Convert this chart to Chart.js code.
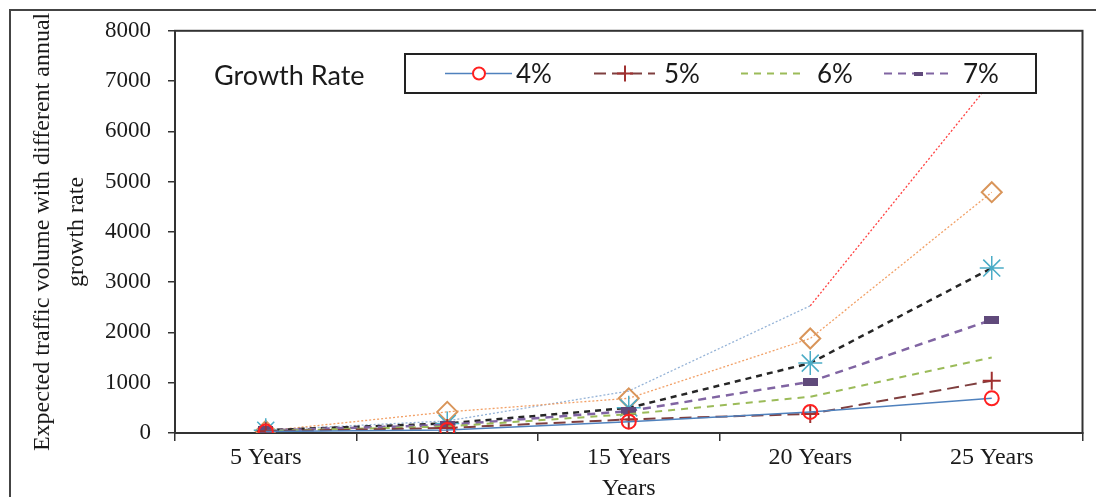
<!DOCTYPE html>
<html><head><meta charset="utf-8">
<script src="https://cdn.jsdelivr.net/npm/chart.js@4"></script>
<style>
html,body{margin:0;padding:0;overflow:hidden;background:#fff;width:1096px;height:497px}
#wrap{position:relative;width:1096px;height:510px}
#frame{position:absolute;left:9px;top:9px;width:1200px;height:600px;border:2px solid #444;pointer-events:none}
canvas{position:absolute;left:0;top:0}
</style></head><body>
<div id="wrap"><canvas id="c" width="1096" height="510"></canvas><div id="frame"></div></div>
<script>
const categories = ['5 Years', '10 Years', '15 Years', '20 Years', '25 Years'];
const seriesNames = ['4%', '5%', '6%', '7%', '8%', '9%', '10%'];
const rate4 = [30, 60, 225, 420, 690];
const rate5 = [35, 100, 270, 380, 1040];
const rate6 = [40, 130, 375, 720, 1500];
const rate7 = [50, 160, 435, 1020, 2250];
const rate8 = [55, 190, 500, 1390, 3280];
const rate9 = [40, 420, 690, 1880, 4790];
const rate10 = [60, 240, 835, 2530, 7000];
const yMin = 0, yMax = 8000, yStep = 1000;
const legendTitle = 'Growth Rate';
const xTitle = 'Years';
const yTitle = ['Expected traffic volume with different annual', 'growth rate'];

function rectImg(w, h, color) {
  const c = document.createElement('canvas');
  c.width = w; c.height = h;
  const x = c.getContext('2d');
  x.fillStyle = color; x.fillRect(0, 0, w, h);
  return c;
}
const purpleRect = rectImg(15, 8, '#604A7B');
const purpleRectSmall = rectImg(9, 4, '#604A7B');

const datasets = [
  {label: seriesNames[0], data: rate4, borderColor: '#4F81BD', borderWidth: 1.5,
   pointStyle: 'circle', pointRadius: 7, pointBorderColor: '#FF2020', pointBackgroundColor: 'rgba(255,255,255,0)', pointBorderWidth: 2},
  {label: seriesNames[1], data: rate5, borderColor: '#7F3F3F', borderWidth: 2, borderDash: [12, 6],
   pointStyle: 'cross', pointRadius: 9, pointBorderColor: '#A03030', pointBorderWidth: 2},
  {label: seriesNames[2], data: rate6, borderColor: '#9BBB59', borderWidth: 2, borderDash: [7, 6],
   pointRadius: 0},
  {label: seriesNames[3], data: rate7, borderColor: '#8064A2', borderWidth: 2.5, borderDash: [8, 6],
   pointStyle: purpleRect, pointRadius: 6},
  {label: seriesNames[4], data: rate8, borderColor: '#262626', borderWidth: 2.5, borderDash: [6, 5],
   pointStyle: 'star', pointRadius: 12, pointBorderColor: '#4BACC6', pointBorderWidth: 1.5},
  {label: seriesNames[5], data: rate9, borderColor: '#F2A066', borderWidth: 1.3, borderDash: [2, 2],
   pointStyle: 'rectRot', pointRadius: 10, pointBorderColor: '#D9955A', pointBackgroundColor: 'rgba(255,255,255,0)', pointBorderWidth: 2},
  {label: seriesNames[6], data: rate10, borderColor: '#95B3D7', borderWidth: 1.3, borderDash: [2, 2],
   pointRadius: 0,
   segment: {borderColor: c => c.p1DataIndex === 4 ? '#FF4040' : undefined}}
];
datasets.forEach(d => { d.fill = false; d.tension = 0; });

const legendSpec = [
  {ds: 0, x1: 445, x2: 512, mx: 479, tx: 516, r: 6, ps: 'circle'},
  {ds: 1, x1: 594, x2: 655, mx: 625, tx: 664, r: 8, ps: 'cross'},
  {ds: 2, x1: 741, x2: 806, mx: null, tx: 817, r: 0, ps: null},
  {ds: 3, x1: 884, x2: 954, mx: 918, tx: 963, r: 4, ps: purpleRectSmall}
];

const boxPlugin = {
  id: 'areaBox',
  beforeDatasetsDraw(chart) {
    const {ctx, chartArea: a} = chart;
    ctx.save();
    ctx.strokeStyle = '#333'; ctx.lineWidth = 2;
    ctx.strokeRect(a.left, a.top, a.right - a.left, a.bottom - a.top);
    ctx.restore();
  }
};

const legendPlugin = {
  id: 'customLegend',
  afterDatasetsDraw(chart) {
    const ctx = chart.ctx;
    ctx.save();
    ctx.fillStyle = '#fff';
    ctx.fillRect(405, 54, 631, 39);
    ctx.strokeStyle = '#222'; ctx.lineWidth = 2;
    ctx.strokeRect(405, 54, 631, 39);
    ctx.fillStyle = '#1a1a1a';
    ctx.font = '27px Lato';
    ctx.textBaseline = 'middle';
    ctx.textAlign = 'left';
    ctx.fillText(legendTitle, 214, 76);
    const y = 73.5;
    legendSpec.forEach(s => {
      const d = chart.data.datasets[s.ds];
      ctx.save();
      ctx.strokeStyle = d.borderColor;
      ctx.lineWidth = Math.min(d.borderWidth, 2);
      ctx.setLineDash(d.borderDash || []);
      ctx.beginPath(); ctx.moveTo(s.x1, y); ctx.lineTo(s.x2, y); ctx.stroke();
      ctx.setLineDash([]);
      if (s.ps) {
        ctx.strokeStyle = d.pointBorderColor || d.borderColor;
        ctx.fillStyle = '#fff';
        ctx.lineWidth = d.pointBorderWidth || 1;
        Chart.helpers.drawPoint(ctx, {pointStyle: s.ps, radius: s.r, rotation: 0, borderWidth: ctx.lineWidth}, s.mx, y);
      }
      ctx.restore();
      ctx.fillStyle = '#1a1a1a';
      ctx.font = '26px Lato';
      ctx.textBaseline = 'middle';
      ctx.fillText(d.label, s.tx, y + 1);
    });
    ctx.restore();
  }
};

const serif = 'Liberation Serif';
new Chart(document.getElementById('c'), {
  type: 'line',
  data: {labels: categories, datasets},
  plugins: [boxPlugin, legendPlugin],
  options: {
    responsive: false,
    animation: false,
    layout: {padding: {top: 28, right: 5, left: 0, bottom: 0}},
    plugins: {legend: {display: false}, tooltip: {enabled: false}},
    scales: {
      x: {
        type: 'category',
        offset: true,
        grid: {offset: true, drawOnChartArea: false, tickLength: 8, color: '#333', lineWidth: 1.5},
        border: {color: '#333', width: 2},
        ticks: {color: '#1a1a1a', font: {family: serif, size: 24}, padding: 2, maxRotation: 0, autoSkip: false},
        title: {display: true, text: xTitle, color: '#1a1a1a', font: {family: serif, size: 24, lineHeight: 1.2}, padding: {top: 0, bottom: 7}},
        afterFit: s => { s.height = 510 - 433; }
      },
      y: {
        min: yMin, max: yMax,
        grid: {drawOnChartArea: false, tickLength: 7, color: '#333', lineWidth: 1.5},
        border: {color: '#333', width: 2},
        ticks: {stepSize: yStep, color: '#1a1a1a', font: {family: serif, size: 23}, padding: 17,
                callback: v => String(v)},
        title: {display: true, text: yTitle, color: '#1a1a1a', font: {family: serif, size: 24, lineHeight: 1.4}, padding: {top: 26, bottom: 0}},
        afterFit: s => { s.width = 175; }
      }
    }
  }
});
</script>
</body></html>
